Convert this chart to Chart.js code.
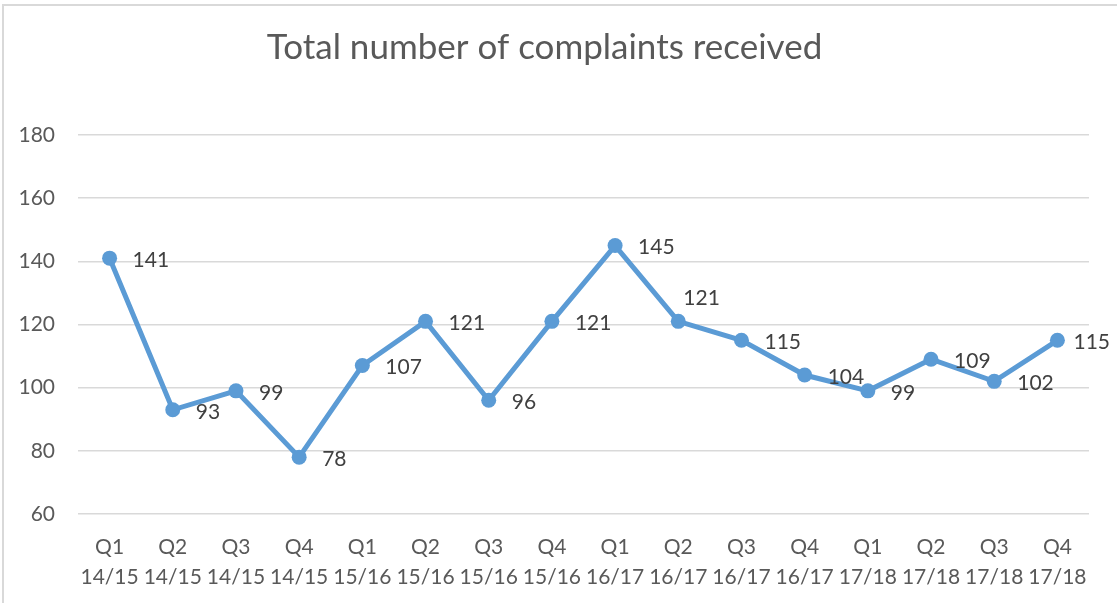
<!DOCTYPE html>
<html>
<head>
  <meta charset="UTF-8">
  <title>Total number of complaints received</title>
  <script src="https://cdn.jsdelivr.net/npm/chart.js"></script>
  <style>
    html, body { margin: 0; padding: 0; background: #fff; overflow: hidden; }
    #wrap { position: relative; width: 1117px; height: 603px; overflow: hidden; }
    #frame { position: absolute; left: 2px; top: 4px; width: 1130px; height: 610px;
             border: 2px solid #d9d9d9; pointer-events: none; box-sizing: border-box; }
    canvas { position: absolute; left: 0; top: 0; }
  </style>
</head>
<body>
  <div id="wrap">
    <canvas id="myChart" width="1117" height="603"></canvas>
    <div id="frame"></div>
  </div>

  <script>
    const quarters = ['Q1', 'Q2', 'Q3', 'Q4', 'Q1', 'Q2', 'Q3', 'Q4', 'Q1', 'Q2', 'Q3', 'Q4', 'Q1', 'Q2', 'Q3', 'Q4'];
    const years = ['14/15', '14/15', '14/15', '14/15', '15/16', '15/16', '15/16', '15/16',
                   '16/17', '16/17', '16/17', '16/17', '17/18', '17/18', '17/18', '17/18'];
    const complaints = [141, 93, 99, 78, 107, 121, 96, 121, 145, 121, 115, 104, 99, 109, 102, 115];
    // where each value label sits relative to its point
    const labelPos = ['right', 'right', 'right', 'right', 'right', 'right', 'right', 'right',
                      'right', 'above', 'right', 'right', 'right', 'right', 'right', 'right'];

    const FONT = 'Lato, "Open Sans", sans-serif';

    // value labels next to each point (like Excel's "Right" label position)
    const valueLabels = {
      id: 'valueLabels',
      afterDatasetsDraw(chart) {
        const ctx = chart.ctx;
        const meta = chart.getDatasetMeta(0);
        ctx.save();
        ctx.font = '21px ' + FONT;
        ctx.fillStyle = '#404040';
        ctx.textBaseline = 'middle';
        ctx.textAlign = 'left';
        meta.data.forEach((pt, i) => {
          const txt = String(complaints[i]);
          let x = pt.x + 23, y = pt.y + 2;
          if (labelPos[i] === 'above') { x = pt.x + 5; y = pt.y - 23; }
          // keep labels inside the chart box
          const w = ctx.measureText(txt).width;
          x = Math.min(x, chart.width - 7 - w);
          ctx.fillText(txt, x, y);
        });
        ctx.restore();
      }
    };

    const ctx = document.getElementById('myChart').getContext('2d');
    new Chart(ctx, {
      type: 'line',
      data: {
        labels: quarters.map((q, i) => [q, years[i]]),
        datasets: [{
          label: 'Complaints',
          data: complaints,
          borderColor: '#5B9BD5',
          backgroundColor: '#5B9BD5',
          borderWidth: 5,
          pointRadius: 7.5,
          pointHoverRadius: 7.5,
          pointBorderWidth: 0,
          tension: 0
        }]
      },
      options: {
        responsive: false,
        animation: false,
        layout: { padding: { left: 0, right: 28, top: 0, bottom: 0 } },
        plugins: {
          legend: { display: false },
          tooltip: { enabled: false },
          title: {
            display: true,
            text: 'Total number of complaints received',
            color: '#595959',
            font: { family: FONT, size: 35, weight: 'normal' },
            padding: { top: 27, bottom: 66 }
          }
        },
        scales: {
          x: {
            offset: true,
            afterFit(scale) { scale.height = 89; },
            grid: { display: false, drawTicks: false },
            border: { display: false },
            ticks: {
              color: '#595959',
              font: { family: FONT, size: 21, lineHeight: 1.43 },
              padding: 18,
              maxRotation: 0,
              autoSkip: false
            }
          },
          y: {
            min: 60,
            max: 180,
            afterFit(scale) { scale.width = 78; },
            grid: { color: '#d9d9d9', lineWidth: 1.5, drawTicks: false },
            border: { display: false },
            ticks: {
              stepSize: 20,
              color: '#595959',
              font: { family: FONT, size: 21 },
              padding: 23
            }
          }
        }
      },
      plugins: [valueLabels]
    });
  </script>
</body>
</html>
